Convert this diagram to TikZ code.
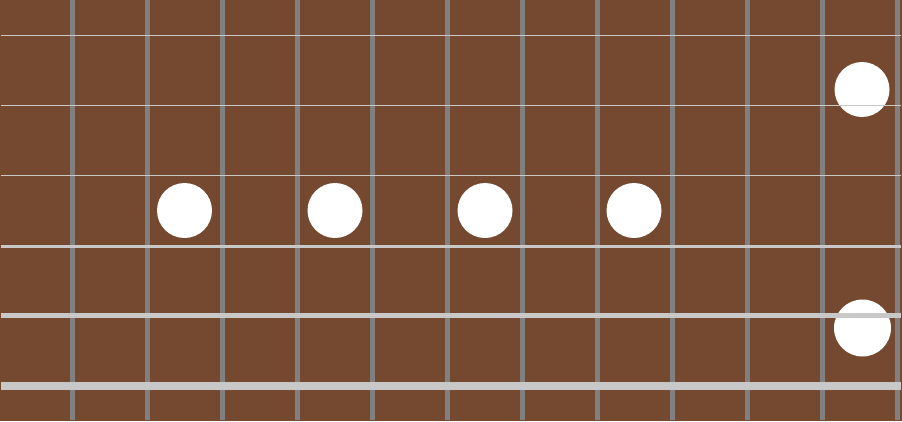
\documentclass[tikz,border=0pt]{standalone}
\definecolor{board}{HTML}{74492F}
\definecolor{fretgray}{HTML}{808080}
\definecolor{stringgray}{HTML}{C8C8C8}
\tikzset{
  fret/.style={draw=fretgray,line width=5pt},
  guitarstring/.style={draw=stringgray},
  fretdot/.style={circle,fill=white,inner sep=0pt,minimum size=55pt}
}
\begin{document}
\begin{tikzpicture}[x=1pt,y=-1pt]
\fill[board] (0,0) rectangle (902,421);
\useasboundingbox (0,0) rectangle (902,421);
% frets
\foreach \fx in {72.5,147.5,...,897.5}
  \draw[fret] (\fx,0) -- (\fx,420);
% position dots
\node[fretdot] (dotthree) at (184.5,210.5) {};
\node[fretdot] (dotfive) at (335,210.5) {};
\node[fretdot] (dotseven) at (485,210.5) {};
\node[fretdot] (dotnine) at (634,210.5) {};
\node[fretdot] (dottwelvetop) at (862,89.5) {};
\node[fretdot,minimum size=57pt] (dottwelvebottom) at (862.5,328) {};
% strings, thin to thick
\foreach \sy/\sw in {35/1,105.5/1,175/1,246/3,315.5/5,386/8}
  \draw[guitarstring,line width=\sw pt] (1,\sy) -- (900.5,\sy);
\end{tikzpicture}
\end{document}
